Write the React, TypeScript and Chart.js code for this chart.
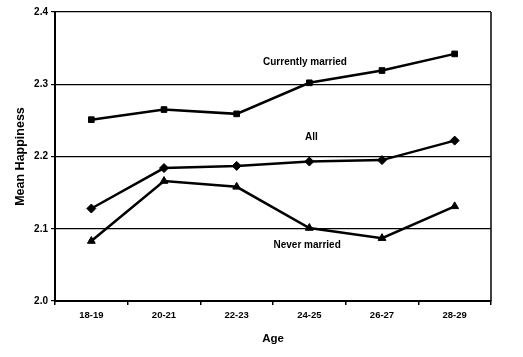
import React, { useEffect, useRef } from "react";
import { Chart, registerables } from "chart.js";

Chart.register(...registerables);

const ageGroups = ["18-19", "20-21", "22-23", "24-25", "26-27", "28-29"];
const currentlyMarried = [2.251, 2.265, 2.259, 2.302, 2.319, 2.342];
const allRespondents = [2.128, 2.184, 2.187, 2.193, 2.195, 2.222];
const neverMarried = [2.083, 2.166, 2.158, 2.101, 2.087, 2.131];

const seriesLabels = ["Currently married", "All", "Never married"];
const labelX = [2.94, 3.03, 2.97];
const labelY = [2.331, 2.226, 2.077];

const FONT = "'Liberation Sans', Arial, Helvetica, sans-serif";

const labelPlugin = {
  id: "seriesLabels",
  afterDraw(chart: any) {
    const { ctx, chartArea, scales } = chart;
    ctx.save();
    // right border
    ctx.strokeStyle = "#000";
    ctx.lineWidth = 1.5;
    ctx.beginPath();
    ctx.moveTo(chartArea.right, chartArea.top);
    ctx.lineTo(chartArea.right, chartArea.bottom);
    ctx.stroke();
    ctx.fillStyle = "#000";
    ctx.font = `bold 10px ${FONT}`;
    ctx.textAlign = "center";
    ctx.textBaseline = "middle";
    seriesLabels.forEach((t, i) => {
      const x = scales.x.getPixelForValue(labelX[i]);
      const y = scales.y.getPixelForValue(labelY[i]);
      ctx.fillText(t, x, y);
    });
    ctx.restore();
  },
};

export default function App() {
  const ref = useRef<HTMLCanvasElement | null>(null);
  useEffect(() => {
    document.body.style.margin = "0";
    const canvas = ref.current!;
    const mk = (data: number[], style: string, radius: number) => ({
      data,
      borderColor: "#000",
      backgroundColor: "#000",
      borderWidth: 2.5,
      pointStyle: style,
      pointRadius: radius,
      pointBorderWidth: 1,
      pointBackgroundColor: "#000",
      pointBorderColor: "#000",
      tension: 0,
    });
    const chart = new Chart(canvas, {
      type: "line",
      data: {
        labels: ageGroups,
        datasets: [
          mk(currentlyMarried, "rect", 4),
          mk(allRespondents, "rectRot", 4.5),
          mk(neverMarried, "triangle", 4.5),
        ],
      },
      options: {
        animation: false,
        responsive: false,
        layout: { padding: { top: 12, right: 32, left: 0, bottom: 0 } },
        plugins: { legend: { display: false }, tooltip: { enabled: false } },
        scales: {
          x: {
            offset: true,
            grid: {
              offset: true,
              drawOnChartArea: false,
              drawTicks: true,
              tickLength: 4,
              color: "#000",
              lineWidth: 1.5,
            },
            border: { color: "#000", width: 2 },
            ticks: {
              color: "#000",
              padding: 5,
              font: { family: FONT, size: 9.5, weight: "bold" },
              maxRotation: 0,
            },
            title: {
              display: true,
              text: "Age",
              color: "#000",
              font: { family: FONT, size: 11.5, weight: "bold" },
              padding: { top: 0, bottom: 11 },
            },
            afterFit: (s: any) => {
              s.height = 56;
            },
          },
          y: {
            min: 2.0,
            max: 2.4,
            grid: {
              color: "#000",
              lineWidth: 1.2,
              drawTicks: true,
              tickLength: 4,
            },
            border: { color: "#000", width: 2 },
            ticks: {
              stepSize: 0.1,
              color: "#000",
              padding: 3,
              font: { family: FONT, size: 10, weight: "bold" },
              callback: (v: any) => Number(v).toFixed(1),
            },
            title: {
              display: true,
              text: "Mean Happiness",
              color: "#000",
              font: { family: FONT, size: 12.5, weight: "bold" },
              padding: { top: 13.5, bottom: 0 },
            },
            afterFit: (s: any) => {
              s.width = 55;
            },
          },
        },
      },
      plugins: [labelPlugin],
    } as any);
    return () => chart.destroy();
  }, []);
  return <canvas ref={ref} width={523} height={357} style={{ display: "block" }} />;
}
